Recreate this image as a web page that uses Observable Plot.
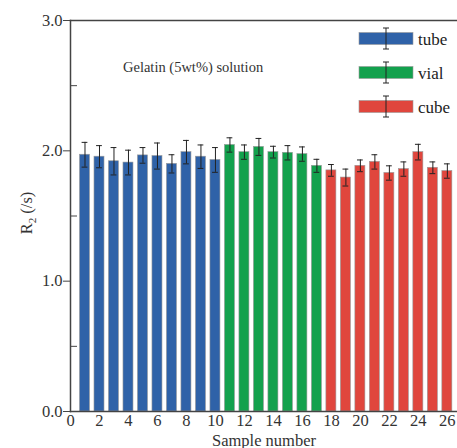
<!DOCTYPE html>
<html><head><meta charset="utf-8">
<script src="https://cdn.jsdelivr.net/npm/d3@7"></script>
<script src="https://cdn.jsdelivr.net/npm/@observablehq/plot@0.6"></script>
<style>body{margin:0;background:#fff} #chart{position:relative;width:457px;height:448px}
#chart svg, #chart svg g, #chart svg text, #chart svg tspan{font-family:"Liberation Serif","DejaVu Serif",Times,serif !important}</style>
</head><body><div id="chart"></div>
<script>
const samples = [1,2,3,4,5,6,7,8,9,10,11,12,13,14,15,16,17,18,19,20,21,22,23,24,25,26];
const groups = ["tube","tube","tube","tube","tube","tube","tube","tube","tube","tube",
  "vial","vial","vial","vial","vial","vial","vial",
  "cube","cube","cube","cube","cube","cube","cube","cube","cube"];
const r2 = [1.97,1.955,1.92,1.91,1.965,1.96,1.90,1.99,1.955,1.93,
  2.045,1.99,2.03,1.99,1.985,1.975,1.885,
  1.85,1.795,1.885,1.915,1.83,1.86,1.99,1.87,1.845];
const err = [0.095,0.085,0.105,0.095,0.06,0.10,0.07,0.09,0.09,0.095,
  0.055,0.055,0.065,0.045,0.055,0.055,0.05,
  0.045,0.065,0.045,0.055,0.055,0.055,0.06,0.045,0.055];
const groupNames = ["tube","vial","cube"];
const groupColors = ["#2f62a8","#13a14d","#e0463d"];
const xTicks = [0,2,4,6,8,10,12,14,16,18,20,22,24,26];
const yTicks = [0,1,2,3];
const yMinor = [0.5,1.5,2.5];
const titleText = "Gelatin (5wt%) solution";
const xLabel = "Sample number";

const data = samples.map((n,i)=>({n, group: groups[i], r2: r2[i], err: err[i]}));
const serif = "Liberation Serif, DejaVu Serif, Times, serif";

const plot = Plot.plot({
  width:457, height:448, marginLeft:70, marginRight:0, marginTop:20, marginBottom:37,
  style:{fontFamily:serif, fontSize:"16.5px", color:"#333", background:"#fff", overflow:"visible"},
  x:{domain:[0,26.7]},
  y:{domain:[0,3]},
  color:{domain:groupNames, range:groupColors},
  marks:[
    Plot.rectY(data,{x1:d=>d.n-0.345, x2:d=>d.n+0.345, y:"r2", fill:"group", stroke:"#999", strokeWidth:0.6}),
    Plot.ruleX(data,{x:"n", y1:d=>d.r2-d.err, y2:d=>d.r2+d.err, stroke:"#222", strokeWidth:1}),
    Plot.ruleY(data,{y:d=>d.r2+d.err, x1:d=>d.n-0.2, x2:d=>d.n+0.2, stroke:"#222", strokeWidth:1}),
    Plot.ruleY(data,{y:d=>d.r2-d.err, x1:d=>d.n-0.2, x2:d=>d.n+0.2, stroke:"#222", strokeWidth:1}),
    Plot.axisX({ticks:xTicks, tickSize:0, tickPadding:3, label:xLabel, labelAnchor:"center", labelArrow:"none", labelOffset:34, fill:"#333", fontFamily:serif}),
    Plot.axisY({ticks:yTicks, tickFormat:d3.format(".1f"), tickSize:7, tickPadding:1, label:null, stroke:"#444", fill:"#333", fontFamily:serif}),
    Plot.axisY({ticks:yMinor, tickSize:7, dx:7, tickFormat:()=>"", label:null, stroke:"#444"}),
    Plot.frame({anchor:"left", stroke:"#444", strokeWidth:1.5}),
    Plot.frame({anchor:"bottom", stroke:"#444", strokeWidth:1.5}),
    Plot.frame({anchor:"top", stroke:"#444", strokeWidth:1.5})
  ]
});
document.getElementById("chart").appendChild(plot);

const svg = d3.select(plot);
// y label
const yl = svg.append("text").attr("transform","translate(32,213) rotate(-90)")
  .attr("text-anchor","middle").attr("font-size",16.5).attr("fill","#333");
yl.append("tspan").text("R");
yl.append("tspan").attr("font-size",11).attr("dy",4).text("2");
yl.append("tspan").attr("dy",-4).text(" (/s)");
// title
svg.append("text").attr("x",123).attr("y",72).attr("text-anchor","start").attr("font-size",14.5)
  .attr("fill","#333").text(titleText);
// legend
const lg = svg.append("g");
groupNames.forEach((g,i)=>{
  const cy = 38.5 + i*34;
  lg.append("rect").attr("x",359).attr("y",cy-6).attr("width",54).attr("height",12).attr("fill",groupColors[i]).attr("stroke","#999").attr("stroke-width",0.6);
  lg.append("line").attr("x1",386).attr("x2",386).attr("y1",cy-10.5).attr("y2",cy+10.5).attr("stroke","#222");
  lg.append("line").attr("x1",383).attr("x2",389).attr("y1",cy-10.5).attr("y2",cy-10.5).attr("stroke","#222");
  lg.append("line").attr("x1",383).attr("x2",389).attr("y1",cy+10.5).attr("y2",cy+10.5).attr("stroke","#222");
  lg.append("text").attr("x",418).attr("y",cy+6).attr("text-anchor","start").attr("font-size",17).attr("fill","#222").text(g);
});
</script></body></html>
